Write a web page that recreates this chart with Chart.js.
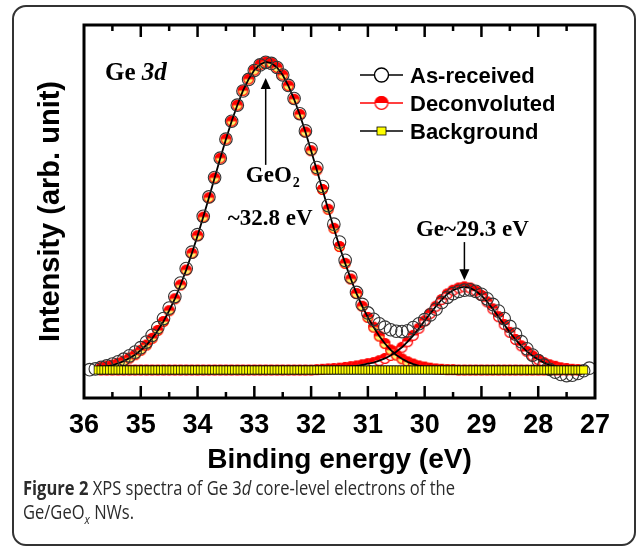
<!DOCTYPE html>
<html>
<head>
<meta charset="utf-8">
<script src="https://cdn.jsdelivr.net/npm/chart.js@4.4.1/dist/chart.umd.min.js"></script>
<style>
  body { margin: 0; background: #fff; width: 637px; height: 547px; position: relative; overflow: hidden; }
  #frame { position: absolute; left: 12px; top: 5px; width: 624px; height: 541px; border: 2px solid #333; border-radius: 14px; box-sizing: border-box; }
  #wrap { position: absolute; left: 0; top: 0; width: 637px; height: 480px; }
  #cap { position: absolute; left: 23px; top: 476px; font: 19.5px 'Open Sans', sans-serif; color: #2b2b2b; line-height: 24px; white-space: nowrap; transform-origin: 0 0; }
  #cap b { font-weight: 700; }
  #cap sub { font-size: 13px; line-height: 0; }
</style>
</head>
<body>
<div id="frame"></div>
<div id="wrap"><canvas id="xps"></canvas></div>
<div id="cap"><span id="l1"><b>Figure 2</b> XPS spectra of Ge 3<i>d</i> core-level electrons of the</span><br>Ge/GeO<sub><i>x</i></sub> NWs.</div>
<script>
/* Bindningsenergi (eV) och intensitet (godt. enhet) */
const asReceivedE = [
  35.9, 35.8, 35.7, 35.6, 35.5, 35.4, 35.3, 35.2, 35.1, 35.0,
  34.9, 34.8, 34.7, 34.6, 34.5, 34.4, 34.3, 34.2, 34.1, 34.0,
  33.9, 33.8, 33.7, 33.6, 33.5, 33.4, 33.3, 33.2, 33.1, 33.0,
  32.9, 32.8, 32.7, 32.6, 32.5, 32.4, 32.3, 32.2, 32.1, 32.0,
  31.9, 31.8, 31.7, 31.6, 31.5, 31.4, 31.3, 31.2, 31.1, 31.0,
  30.9, 30.8, 30.7, 30.6, 30.5, 30.4, 30.3, 30.2, 30.1, 30.0,
  29.9, 29.8, 29.7, 29.6, 29.5, 29.4, 29.3, 29.2, 29.1, 29.0,
  28.9, 28.8, 28.7, 28.6, 28.5, 28.4, 28.3, 28.2, 28.1, 28.0,
  27.9, 27.8, 27.7, 27.6, 27.5, 27.4, 27.3, 27.2, 27.1
];
const asReceived = [
  7.6, 7.8, 8.2, 8.6, 9.1, 9.7, 10.4, 11.3, 12.3, 13.5,
  15.0, 16.8, 18.9, 21.3, 24.1, 27.2, 30.8, 34.7, 39.1, 43.8,
  48.7, 53.9, 59.1, 64.3, 69.4, 74.2, 78.5, 82.3, 85.4, 87.8,
  89.3, 90.0, 89.7, 88.6, 86.6, 83.8, 80.3, 76.2, 71.6, 66.8,
  61.8, 56.7, 51.6, 46.6, 41.8, 36.9, 32.4, 28.3, 25.1, 22.8,
  21.1, 19.9, 19.0, 18.3, 17.9, 17.8, 18.0, 18.9, 19.9, 21.0,
  22.3, 23.8, 25.6, 27.0, 28.0, 28.6, 28.9, 29.0, 28.6, 27.8,
  26.6, 25.1, 23.3, 21.3, 19.2, 17.1, 15.1, 13.2, 11.5, 10.0,
  8.8, 7.7, 6.9, 6.3, 6.0, 6.1, 6.6, 7.3, 8.0
];

/* Dekonvoluerade komponenter: GeO2 (~32.8 eV) och Ge (~29.3 eV) */
const compE = [
  35.7, 35.6, 35.5, 35.4, 35.3, 35.2, 35.1, 35.0,
  34.9, 34.8, 34.7, 34.6, 34.5, 34.4, 34.3, 34.2, 34.1, 34.0,
  33.9, 33.8, 33.7, 33.6, 33.5, 33.4, 33.3, 33.2, 33.1, 33.0,
  32.9, 32.8, 32.7, 32.6, 32.5, 32.4, 32.3, 32.2, 32.1, 32.0,
  31.9, 31.8, 31.7, 31.6, 31.5, 31.4, 31.3, 31.2, 31.1, 31.0,
  30.9, 30.8, 30.7, 30.6, 30.5, 30.4, 30.3, 30.2, 30.1, 30.0,
  29.9, 29.8, 29.7, 29.6, 29.5, 29.4, 29.3, 29.2, 29.1, 29.0,
  28.9, 28.8, 28.7, 28.6, 28.5, 28.4, 28.3, 28.2, 28.1, 28.0,
  27.9, 27.8, 27.7, 27.6, 27.5, 27.4, 27.3
];
const geo2Comp = [
  8.2, 8.5, 8.8, 9.3, 9.9, 10.7, 11.6, 12.8,
  14.2, 16.0, 18.1, 20.5, 23.4, 26.6, 30.3, 34.3, 38.8, 43.5,
  48.5, 53.7, 59.0, 64.3, 69.4, 74.2, 78.5, 82.4, 85.5, 87.9,
  89.4, 90.1, 89.8, 88.6, 86.6, 83.7, 80.1, 76.0, 71.3, 66.3,
  61.1, 55.9, 50.6, 45.5, 40.6, 36.1, 31.9, 28.0, 24.6, 21.6,
  19.0, 16.6, 14.6, 12.9, 11.5, 10.5, 9.7, 9.1, 8.6, 8.3,
  8.0, 7.8, 7.7, 7.6, 7.6, 7.5, 7.5, 7.5, 7.5, 7.5,
  7.5, 7.5, 7.5, 7.5, 7.5, 7.5, 7.5, 7.5, 7.5, 7.5,
  7.5, 7.5, 7.5, 7.5, 7.5, 7.5, 7.5
];
const geComp = [
  7.5, 7.5, 7.5, 7.5, 7.5, 7.5, 7.5, 7.5,
  7.5, 7.5, 7.5, 7.5, 7.5, 7.5, 7.5, 7.5, 7.5, 7.5,
  7.5, 7.5, 7.5, 7.5, 7.5, 7.5, 7.5, 7.5, 7.5, 7.5,
  7.5, 7.5, 7.5, 7.5, 7.5, 7.5, 7.5, 7.5, 7.5, 7.5,
  7.6, 7.7, 7.8, 7.9, 8.0, 8.2, 8.4, 8.6, 8.9, 9.2,
  9.5, 10.0, 10.6, 11.4, 12.4, 13.6, 15.1, 16.8, 18.7, 20.7,
  22.7, 24.6, 26.4, 27.9, 28.9, 29.5, 29.8, 29.5, 28.7, 27.5,
  25.8, 23.9, 21.8, 19.7, 17.6, 15.7, 14.0, 12.5, 11.3, 10.3,
  9.5, 8.9, 8.5, 8.1, 7.9, 7.7, 7.6
];

/* Bakgrund (tät serie av kvadrater längs baslinjen) */
const bgE = [
  35.75, 35.7, 35.65, 35.6, 35.55, 35.5, 35.45, 35.4, 35.35, 35.3,
  35.25, 35.2, 35.15, 35.1, 35.05, 35.0, 34.95, 34.9, 34.85, 34.8,
  34.75, 34.7, 34.65, 34.6, 34.55, 34.5, 34.45, 34.4, 34.35, 34.3,
  34.25, 34.2, 34.15, 34.1, 34.05, 34.0, 33.95, 33.9, 33.85, 33.8,
  33.75, 33.7, 33.65, 33.6, 33.55, 33.5, 33.45, 33.4, 33.35, 33.3,
  33.25, 33.2, 33.15, 33.1, 33.05, 33.0, 32.95, 32.9, 32.85, 32.8,
  32.75, 32.7, 32.65, 32.6, 32.55, 32.5, 32.45, 32.4, 32.35, 32.3,
  32.25, 32.2, 32.15, 32.1, 32.05, 32.0, 31.95, 31.9, 31.85, 31.8,
  31.75, 31.7, 31.65, 31.6, 31.55, 31.5, 31.45, 31.4, 31.35, 31.3,
  31.25, 31.2, 31.15, 31.1, 31.05, 31.0, 30.95, 30.9, 30.85, 30.8,
  30.75, 30.7, 30.65, 30.6, 30.55, 30.5, 30.45, 30.4, 30.35, 30.3,
  30.25, 30.2, 30.15, 30.1, 30.05, 30.0, 29.95, 29.9, 29.85, 29.8,
  29.75, 29.7, 29.65, 29.6, 29.55, 29.5, 29.45, 29.4, 29.35, 29.3,
  29.25, 29.2, 29.15, 29.1, 29.05, 29.0, 28.95, 28.9, 28.85, 28.8,
  28.75, 28.7, 28.65, 28.6, 28.55, 28.5, 28.45, 28.4, 28.35, 28.3,
  28.25, 28.2, 28.15, 28.1, 28.05, 28.0, 27.95, 27.9, 27.85, 27.8,
  27.75, 27.7, 27.65, 27.6, 27.55, 27.5, 27.45, 27.4, 27.35, 27.3,
  27.25, 27.2
];
const bgLine = [
  7.5, 7.5, 7.5, 7.5, 7.5, 7.5, 7.5, 7.5, 7.5, 7.5,
  7.5, 7.5, 7.5, 7.5, 7.5, 7.5, 7.5, 7.5, 7.5, 7.5,
  7.5, 7.5, 7.5, 7.5, 7.5, 7.5, 7.5, 7.5, 7.5, 7.5,
  7.5, 7.5, 7.5, 7.5, 7.5, 7.5, 7.5, 7.5, 7.5, 7.5,
  7.5, 7.5, 7.5, 7.5, 7.5, 7.5, 7.5, 7.5, 7.5, 7.5,
  7.5, 7.5, 7.5, 7.5, 7.5, 7.5, 7.5, 7.5, 7.5, 7.5,
  7.5, 7.5, 7.5, 7.5, 7.5, 7.5, 7.5, 7.5, 7.5, 7.5,
  7.5, 7.5, 7.5, 7.5, 7.5, 7.5, 7.5, 7.5, 7.5, 7.5,
  7.5, 7.5, 7.5, 7.5, 7.5, 7.5, 7.5, 7.5, 7.5, 7.5,
  7.5, 7.5, 7.5, 7.5, 7.5, 7.5, 7.5, 7.5, 7.5, 7.5,
  7.5, 7.5, 7.5, 7.5, 7.5, 7.5, 7.5, 7.5, 7.5, 7.5,
  7.5, 7.5, 7.5, 7.5, 7.5, 7.5, 7.5, 7.5, 7.5, 7.5,
  7.5, 7.5, 7.5, 7.5, 7.5, 7.5, 7.5, 7.5, 7.5, 7.5,
  7.5, 7.5, 7.5, 7.5, 7.5, 7.5, 7.5, 7.5, 7.5, 7.5,
  7.5, 7.5, 7.5, 7.5, 7.5, 7.5, 7.5, 7.5, 7.5, 7.5,
  7.5, 7.5, 7.5, 7.5, 7.5, 7.5, 7.5, 7.5, 7.5, 7.5,
  7.5, 7.5, 7.5, 7.5, 7.5, 7.5, 7.5, 7.5, 7.5, 7.5,
  7.5, 7.5
];

const legendNames = ['As-received', 'Deconvoluted', 'Background'];

const sans = "'Liberation Sans', Arial, sans-serif";
const serif = "'Liberation Serif', 'Times New Roman', serif";

/* Stödfunktion: x/y-par av två arrayer */
const pts = (xs, ys) => xs.map((x, i) => ({ x, y: ys[i] }));

/* Halvfylld röd cirkel (övre halvan röd) som punktstil */
function halfDot(r, lower) {
  const c = document.createElement('canvas');
  const s = Math.ceil(r * 2 + 2);
  c.width = c.height = s;
  const g = c.getContext('2d');
  const m = s / 2;
  g.fillStyle = lower;
  g.beginPath(); g.arc(m, m, r, 0, Math.PI * 2); g.fill();
  g.fillStyle = '#ff0000';
  g.beginPath(); g.arc(m, m, r, Math.PI, Math.PI * 2); g.closePath(); g.fill();
  g.strokeStyle = '#ff0000'; g.lineWidth = 1.2;
  g.beginPath(); g.arc(m, m, r - 0.6, 0, Math.PI * 2); g.stroke();
  return c;
}
const dotGeO2 = halfDot(5.5, '#fff06a');
const dotGe = halfDot(5.5, '#ffffff');
const dotLegend = halfDot(7, '#ffffff');

/* Ram, inåtriktade tickmarkeringar, etiketter och egen legend */
const decor = {
  id: 'decor',
  afterDatasetsDraw(chart) {
    const { ctx, chartArea: a, scales: { x, y } } = chart;
    ctx.save();
    ctx.strokeStyle = '#000';
    ctx.lineWidth = 3;
    ctx.strokeRect(a.left, a.top, a.right - a.left, a.bottom - a.top);

    ctx.lineWidth = 2.5;
    x.ticks.forEach((t) => {
      [[t.value, 12], [t.value + 0.5, 6]].forEach(([v, len]) => {
        if (v <= x.min || v >= x.max) return;
        const px = x.getPixelForValue(v);
        ctx.beginPath();
        ctx.moveTo(px, a.top); ctx.lineTo(px, a.top + len);
        ctx.moveTo(px, a.bottom); ctx.lineTo(px, a.bottom - len);
        ctx.stroke();
      });
    });

    // pilar
    const arrow = (e, v0, v1) => {
      const px = x.getPixelForValue(e);
      const y0 = y.getPixelForValue(v0), y1 = y.getPixelForValue(v1);
      const dir = y1 < y0 ? 1 : -1;
      ctx.lineWidth = 1.5;
      ctx.beginPath(); ctx.moveTo(px, y0); ctx.lineTo(px, y1 + dir * 8); ctx.stroke();
      ctx.fillStyle = '#000';
      ctx.beginPath();
      ctx.moveTo(px, y1);
      ctx.lineTo(px - 5, y1 + dir * 11);
      ctx.lineTo(px + 5, y1 + dir * 11);
      ctx.closePath(); ctx.fill();
    };
    arrow(32.8, 62.5, 85.8);
    arrow(29.3, 41.8, 31.6);

    // texter
    ctx.fillStyle = '#000';
    ctx.textBaseline = 'alphabetic';
    ctx.textAlign = 'left';
    let px = x.getPixelForValue(35.63), py = y.getPixelForValue(85.3);
    ctx.font = `bold 25px ${serif}`;
    ctx.fillText('Ge ', px, py);
    px += ctx.measureText('Ge ').width;
    ctx.font = `italic bold 25px ${serif}`;
    ctx.fillText('3d', px, py);

    px = x.getPixelForValue(33.15); py = y.getPixelForValue(57.9);
    ctx.font = `bold 23px ${serif}`;
    ctx.fillText('GeO', px, py);
    px += ctx.measureText('GeO').width;
    ctx.font = `bold 14px ${serif}`;
    ctx.fillText('2', px + 1, py + 5);

    ctx.textAlign = 'center';
    ctx.font = `bold 23px ${serif}`;
    ctx.fillText('~32.8 eV', x.getPixelForValue(32.72), y.getPixelForValue(46.4));
    ctx.fillText('Ge~29.3 eV', x.getPixelForValue(29.16), y.getPixelForValue(43.4));

    // legend
    const lx0 = a.right - 235, lx1 = a.right - 192, lm = (lx0 + lx1) / 2;
    legendNames.forEach((name, i) => {
      const ry = a.top + 50 + i * 28;
      ctx.lineWidth = 1.6;
      ctx.strokeStyle = i === 1 ? '#ff0000' : '#000';
      ctx.beginPath(); ctx.moveTo(lx0, ry); ctx.lineTo(lx1, ry); ctx.stroke();
      if (i === 0) {
        ctx.fillStyle = '#fff'; ctx.strokeStyle = '#000'; ctx.lineWidth = 1.4;
        ctx.beginPath(); ctx.arc(lm, ry, 7, 0, Math.PI * 2); ctx.fill(); ctx.stroke();
      } else if (i === 1) {
        ctx.drawImage(dotLegend, lm - dotLegend.width / 2, ry - dotLegend.height / 2);
      } else {
        ctx.fillStyle = '#ffff00'; ctx.strokeStyle = '#000'; ctx.lineWidth = 0.8;
        ctx.fillRect(lm - 4.5, ry - 4, 9, 8); ctx.strokeRect(lm - 4.5, ry - 4, 9, 8);
      }
      ctx.fillStyle = '#000';
      ctx.textAlign = 'left';
      ctx.font = `bold 22px ${sans}`;
      ctx.fillText(name, a.right - 185, ry + 7.5);
    });
    ctx.restore();
  }
};

new Chart(document.getElementById('xps'), {
  type: 'line',
  data: {
    datasets: [
      {
        label: 'Background',
        data: pts(bgE, bgLine),
        showLine: false,
        pointStyle: 'rect',
        pointRadius: 5.7,
        pointBackgroundColor: '#ffff00',
        pointBorderColor: '#000',
        pointBorderWidth: 0.7,
        order: 0
      },
      {
        label: 'As-received',
        data: pts(asReceivedE, asReceived),
        showLine: false,
        pointStyle: 'circle',
        pointRadius: 6.3,
        pointBackgroundColor: 'rgba(255,255,255,0)',
        pointBorderColor: '#333',
        pointBorderWidth: 1.1,
        order: 1
      },
      {
        label: 'GeO2 line',
        data: pts(compE, geo2Comp),
        borderColor: '#000',
        borderWidth: 1.8,
        pointRadius: 0,
        order: 2
      },
      {
        label: 'Ge line',
        data: pts(compE, geComp),
        borderColor: '#000',
        borderWidth: 1.8,
        pointRadius: 0,
        order: 2
      },
      {
        label: 'Deconvoluted GeO2',
        data: pts(compE, geo2Comp),
        showLine: false,
        pointStyle: dotGeO2,
        pointRadius: 5.5,
        order: 3
      },
      {
        label: 'Deconvoluted Ge',
        data: pts(compE, geComp),
        showLine: false,
        pointStyle: dotGe,
        pointRadius: 5.5,
        order: 3
      }
    ]
  },
  options: {
    responsive: true,
    maintainAspectRatio: false,
    animation: false,
    events: [],
    layout: { padding: { top: 25, right: 42, left: 0, bottom: 0 } },
    plugins: { legend: { display: false }, tooltip: { enabled: false } },
    scales: {
      x: {
        type: 'linear',
        min: 27,
        max: 36,
        reverse: true,
        grid: { display: false, drawTicks: false },
        border: { display: false },
        ticks: { stepSize: 1, padding: 11, color: '#000', font: { family: sans, size: 27, weight: 'bold' } },
        title: { display: true, text: 'Binding energy (eV)', color: '#000', padding: { top: 0, bottom: 2.5 }, font: { family: sans, size: 28, weight: 'bold' } },
        afterFit: (s) => { s.height = 82; }
      },
      y: {
        min: 0,
        max: 100,
        grid: { display: false, drawTicks: false },
        border: { display: false },
        ticks: { display: false },
        title: { display: true, text: 'Intensity (arb. unit)', color: '#000', padding: { top: 34, bottom: 0 }, font: { family: sans, size: 29, weight: 'bold' } },
        afterFit: (s) => { s.width = 84; }
      }
    }
  },
  plugins: [decor]
});

/* Bildtexten i typsnittet är bredare än originalet: trycks ihop till samma bredd */
const cap = document.getElementById('cap');
const w = document.getElementById('l1').getBoundingClientRect().width;
cap.style.transform = `scaleX(${432 / w})`;
</script>
</body>
</html>
